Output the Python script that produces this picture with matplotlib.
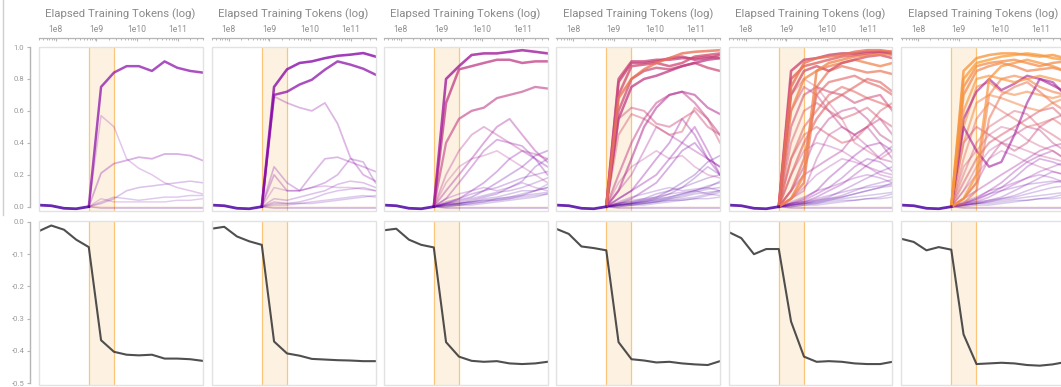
import matplotlib
matplotlib.use("Agg")
import numpy as np
import matplotlib.pyplot as plt
from matplotlib.patches import Rectangle
from matplotlib.lines import Line2D
from matplotlib.ticker import FixedLocator, FixedFormatter, LogLocator, NullFormatter

plt.rcParams['font.family'] = ['Roboto', 'DejaVu Sans']
plt.rcParams['axes.unicode_minus'] = False

# checkpoint positions (elapsed training tokens)
tokens = [3.8e7, 7.8e7, 1.6e8, 3.2e8, 6.5e8, 1.3e9, 2.7e9,
          5.5e9, 1.1e10, 2.3e10, 4.7e10, 9.6e10, 2.0e11, 4.0e11]
band_lo, band_hi = 6.5e8, 2.7e9

xtick_vals = [1e8, 1e9, 1e10, 1e11]
xtick_text = ["1e8", "1e9", "1e10", "1e11"]
top_yticks = [0.0, 0.2, 0.4, 0.6, 0.8, 1.0]
bot_yticks = [0.0, -0.1, -0.2, -0.3, -0.4, -0.5]
xlabel_text = "Elapsed Training Tokens (log)"

# loss-difference curve for each model
loss_1 = [-0.029, -0.011, -0.024, -0.055, -0.078, -0.367, -0.403, -0.412, -0.414, -0.412, -0.424, -0.424, -0.426, -0.431]
loss_2 = [-0.021, -0.015, -0.045, -0.060, -0.071, -0.371, -0.408, -0.415, -0.425, -0.427, -0.429, -0.430, -0.432, -0.432]
loss_3 = [-0.026, -0.021, -0.055, -0.071, -0.079, -0.373, -0.418, -0.431, -0.434, -0.432, -0.439, -0.441, -0.439, -0.434]
loss_4 = [-0.021, -0.037, -0.076, -0.081, -0.088, -0.373, -0.426, -0.430, -0.436, -0.434, -0.439, -0.442, -0.444, -0.432]
loss_5 = [-0.031, -0.050, -0.100, -0.084, -0.084, -0.309, -0.418, -0.434, -0.432, -0.434, -0.439, -0.441, -0.441, -0.434]
loss_6 = [-0.052, -0.062, -0.088, -0.078, -0.086, -0.349, -0.441, -0.439, -0.437, -0.439, -0.444, -0.446, -0.442, -0.435]

# head scores before the transition (first five checkpoints, shared by all heads)
early = [0.01, 0.006, -0.01, -0.013, 0.0]

# head scores from the sixth checkpoint on, and each head's layer depth (0..1)
heads_1 = [
    [0.75, 0.84, 0.88, 0.88, 0.85, 0.91, 0.87, 0.85, 0.84],
    [0.57, 0.50, 0.30, 0.24, 0.20, 0.15, 0.12, 0.10, 0.08],
    [0.21, 0.27, 0.29, 0.31, 0.30, 0.33, 0.33, 0.32, 0.29],
    [0.02, 0.05, 0.10, 0.12, 0.13, 0.14, 0.15, 0.16, 0.15],
    [0.03, 0.06, 0.05, 0.04, 0.05, 0.06, 0.06, 0.07, 0.07],
    [0.05, 0.03, 0.03, 0.03, 0.03, 0.03, 0.04, 0.04, 0.05],
    [-0.006, -0.006, -0.006, -0.006, -0.006, -0.006, -0.006, -0.006, -0.006],
    [-0.01, -0.01, -0.01, -0.01, -0.01, -0.01, -0.01, -0.01, -0.01],
    [-0.003, -0.004, -0.004, -0.004, -0.004, -0.004, -0.004, -0.004, -0.004],
]
layer_1 = [0.27, 0.27, 0.27, 0.20, 0.20, 0.25, 0.55, 0.10, 0.60]

heads_2 = [
    [0.75, 0.86, 0.90, 0.91, 0.93, 0.945, 0.952, 0.962, 0.94],
    [0.70, 0.72, 0.765, 0.795, 0.858, 0.91, 0.89, 0.864, 0.827],
    [0.69, 0.65, 0.62, 0.60, 0.65, 0.52, 0.31, 0.20, 0.16],
    [0.25, 0.15, 0.10, 0.12, 0.15, 0.20, 0.30, 0.28, 0.15],
    [0.20, 0.10, 0.10, 0.20, 0.30, 0.31, 0.28, 0.25, 0.22],
    [0.12, 0.10, 0.10, 0.12, 0.13, 0.12, 0.12, 0.11, 0.10],
    [0.02, 0.02, 0.03, 0.05, 0.08, 0.10, 0.11, 0.12, 0.10],
    [0.03, 0.02, 0.02, 0.03, 0.04, 0.05, 0.06, 0.07, 0.06],
    [0.05, 0.04, 0.06, 0.08, 0.10, 0.14, 0.16, 0.15, 0.12],
    [0.01, 0.01, 0.02, 0.02, 0.03, 0.04, 0.05, 0.06, 0.07],
    [-0.006, -0.006, -0.006, -0.006, -0.006, -0.006, -0.006, -0.006, -0.006],
    [-0.01, -0.01, -0.01, -0.01, -0.01, -0.01, -0.01, -0.01, -0.01],
    [-0.003, -0.004, -0.004, -0.004, -0.004, -0.004, -0.004, -0.004, -0.004],
]
layer_2 = [0.27, 0.27, 0.30, 0.25, 0.28, 0.30, 0.20, 0.20, 0.22, 0.15, 0.55, 0.10, 0.60]

heads_3 = [
    [0.80, 0.88, 0.95, 0.96, 0.96, 0.97, 0.98, 0.97, 0.96],
    [0.65, 0.86, 0.88, 0.90, 0.92, 0.92, 0.90, 0.91, 0.91],
    [0.40, 0.55, 0.60, 0.62, 0.68, 0.70, 0.72, 0.75, 0.74],
    [0.10, 0.20, 0.30, 0.40, 0.50, 0.55, 0.45, 0.35, 0.28],
    [0.05, 0.15, 0.25, 0.35, 0.42, 0.40, 0.38, 0.30, 0.20],
    [0.15, 0.25, 0.30, 0.32, 0.35, 0.30, 0.25, 0.20, 0.15],
    [0.02, 0.05, 0.10, 0.15, 0.22, 0.30, 0.35, 0.30, 0.25],
    [0.02, 0.04, 0.06, 0.10, 0.15, 0.20, 0.25, 0.32, 0.35],
    [0.03, 0.05, 0.08, 0.10, 0.12, 0.15, 0.18, 0.20, 0.22],
    [0.01, 0.02, 0.04, 0.06, 0.08, 0.12, 0.16, 0.25, 0.30],
    [0.05, 0.08, 0.10, 0.12, 0.10, 0.12, 0.15, 0.12, 0.10],
    [0.02, 0.03, 0.05, 0.07, 0.09, 0.10, 0.12, 0.15, 0.18],
    [0.01, 0.02, 0.03, 0.05, 0.06, 0.08, 0.10, 0.10, 0.12],
    [0.00, 0.01, 0.02, 0.03, 0.05, 0.06, 0.08, 0.10, 0.12],
    [0.02, 0.02, 0.03, 0.04, 0.04, 0.05, 0.06, 0.07, 0.08],
    [0.20, 0.35, 0.45, 0.50, 0.45, 0.40, 0.35, 0.33, 0.30],
    [0.01, 0.02, 0.03, 0.04, 0.05, 0.06, 0.07, 0.08, 0.09],
    [0.00, 0.01, 0.01, 0.02, 0.03, 0.04, 0.05, 0.06, 0.08],
    [0.01, 0.01, 0.02, 0.03, 0.04, 0.05, 0.07, 0.10, 0.14],
    [-0.006, -0.006, -0.006, -0.006, -0.006, -0.006, -0.006, -0.006, -0.006],
    [-0.01, -0.01, -0.01, -0.01, -0.01, -0.01, -0.01, -0.01, -0.01],
    [-0.003, -0.004, -0.004, -0.004, -0.004, -0.004, -0.004, -0.004, -0.004],
]
layer_3 = [0.35, 0.45, 0.45, 0.35, 0.30, 0.40, 0.25, 0.20, 0.20, 0.15, 0.25, 0.18,
           0.15, 0.12, 0.20, 0.40, 0.12, 0.10, 0.18, 0.50, 0.10, 0.60]

heads_4 = [
    [0.68, 0.80, 0.86, 0.90, 0.93, 0.96, 0.97, 0.975, 0.98],
    [0.80, 0.91, 0.91, 0.92, 0.92, 0.93, 0.93, 0.94, 0.93],
    [0.78, 0.90, 0.90, 0.91, 0.93, 0.94, 0.92, 0.93, 0.95],
    [0.70, 0.88, 0.89, 0.90, 0.88, 0.90, 0.94, 0.95, 0.96],
    [0.60, 0.80, 0.85, 0.87, 0.86, 0.88, 0.90, 0.87, 0.85],
    [0.55, 0.75, 0.80, 0.82, 0.85, 0.88, 0.90, 0.92, 0.93],
    [0.55, 0.62, 0.60, 0.52, 0.50, 0.55, 0.60, 0.50, 0.45],
    [0.45, 0.58, 0.55, 0.50, 0.45, 0.47, 0.62, 0.55, 0.40],
    [0.20, 0.40, 0.55, 0.65, 0.70, 0.72, 0.65, 0.55, 0.45],
    [0.10, 0.30, 0.50, 0.62, 0.70, 0.72, 0.70, 0.62, 0.58],
    [0.10, 0.20, 0.35, 0.50, 0.45, 0.40, 0.35, 0.30, 0.25],
    [0.05, 0.10, 0.20, 0.30, 0.40, 0.55, 0.45, 0.30, 0.20],
    [0.02, 0.05, 0.10, 0.15, 0.25, 0.35, 0.40, 0.30, 0.25],
    [0.05, 0.10, 0.15, 0.20, 0.30, 0.40, 0.50, 0.35, 0.20],
    [0.01, 0.02, 0.04, 0.06, 0.10, 0.15, 0.20, 0.28, 0.32],
    [0.01, 0.02, 0.03, 0.05, 0.08, 0.12, 0.18, 0.25, 0.20],
    [0.02, 0.03, 0.05, 0.08, 0.10, 0.12, 0.15, 0.18, 0.20],
    [0.01, 0.02, 0.03, 0.04, 0.06, 0.08, 0.10, 0.13, 0.15],
    [0.01, 0.01, 0.02, 0.03, 0.05, 0.07, 0.09, 0.11, 0.12],
    [0.03, 0.06, 0.08, 0.10, 0.12, 0.10, 0.11, 0.12, 0.10],
    [0.02, 0.04, 0.05, 0.06, 0.08, 0.09, 0.10, 0.08, 0.07],
    [0.15, 0.25, 0.30, 0.35, 0.30, 0.32, 0.25, 0.20, 0.18],
    [0.00, 0.01, 0.02, 0.03, 0.04, 0.05, 0.06, 0.08, 0.10],
    [0.01, 0.02, 0.03, 0.04, 0.05, 0.06, 0.08, 0.09, 0.10],
    [0.00, 0.01, 0.01, 0.02, 0.03, 0.04, 0.05, 0.07, 0.09],
    [0.01, 0.02, 0.02, 0.03, 0.04, 0.04, 0.05, 0.05, 0.06],
    [0.02, 0.03, 0.04, 0.05, 0.06, 0.08, 0.10, 0.12, 0.16],
    [-0.006, -0.006, -0.006, -0.006, -0.006, -0.006, -0.006, -0.006, -0.006],
    [-0.01, -0.01, -0.01, -0.01, -0.01, -0.01, -0.01, -0.01, -0.01],
    [-0.003, -0.004, -0.004, -0.004, -0.004, -0.004, -0.004, -0.004, -0.004],
]
layer_4 = [0.65, 0.50, 0.48, 0.52, 0.50, 0.45, 0.50, 0.55, 0.45, 0.40, 0.35, 0.30,
           0.25, 0.30, 0.15, 0.15, 0.15, 0.12, 0.10, 0.20, 0.20, 0.40, 0.12,
           0.12, 0.10, 0.14, 0.16, 0.55, 0.10, 0.60]

heads_5 = [
    [0.85, 0.92, 0.93, 0.95, 0.96, 0.96, 0.97, 0.97, 0.96],
    [0.80, 0.88, 0.90, 0.92, 0.94, 0.95, 0.96, 0.97, 0.97],
    [0.70, 0.85, 0.88, 0.85, 0.90, 0.92, 0.94, 0.95, 0.93],
    [0.75, 0.90, 0.93, 0.94, 0.95, 0.97, 0.98, 0.98, 0.97],
    [0.60, 0.80, 0.85, 0.88, 0.90, 0.92, 0.90, 0.88, 0.90],
    [0.05, 0.20, 0.85, 0.90, 0.92, 0.94, 0.95, 0.96, 0.95],
    [0.05, 0.15, 0.75, 0.85, 0.88, 0.86, 0.84, 0.85, 0.83],
    [0.10, 0.30, 0.70, 0.78, 0.80, 0.82, 0.78, 0.75, 0.70],
    [0.50, 0.70, 0.75, 0.72, 0.70, 0.65, 0.68, 0.70, 0.60],
    [0.40, 0.60, 0.65, 0.60, 0.55, 0.58, 0.62, 0.55, 0.50],
    [0.30, 0.50, 0.60, 0.70, 0.75, 0.72, 0.68, 0.65, 0.62],
    [0.60, 0.75, 0.70, 0.60, 0.50, 0.45, 0.50, 0.55, 0.45],
    [0.20, 0.40, 0.55, 0.65, 0.70, 0.75, 0.80, 0.78, 0.72],
    [0.70, 0.80, 0.75, 0.65, 0.55, 0.40, 0.35, 0.30, 0.35],
    [0.10, 0.25, 0.45, 0.55, 0.60, 0.62, 0.55, 0.45, 0.40],
    [0.30, 0.45, 0.50, 0.45, 0.40, 0.42, 0.50, 0.60, 0.65],
    [0.05, 0.10, 0.30, 0.45, 0.50, 0.45, 0.38, 0.30, 0.28],
    [0.20, 0.35, 0.40, 0.38, 0.35, 0.30, 0.25, 0.22, 0.20],
    [0.02, 0.05, 0.10, 0.18, 0.25, 0.32, 0.38, 0.40, 0.35],
    [0.02, 0.04, 0.08, 0.12, 0.18, 0.25, 0.30, 0.28, 0.22],
    [0.01, 0.03, 0.06, 0.10, 0.14, 0.20, 0.26, 0.32, 0.38],
    [0.03, 0.06, 0.10, 0.12, 0.15, 0.18, 0.20, 0.18, 0.15],
    [0.01, 0.02, 0.04, 0.06, 0.10, 0.14, 0.18, 0.22, 0.25],
    [0.01, 0.02, 0.03, 0.05, 0.07, 0.10, 0.13, 0.15, 0.17],
    [0.02, 0.03, 0.05, 0.07, 0.09, 0.11, 0.12, 0.13, 0.14],
    [0.00, 0.01, 0.02, 0.04, 0.06, 0.08, 0.10, 0.12, 0.15],
    [0.05, 0.12, 0.20, 0.25, 0.30, 0.28, 0.25, 0.20, 0.18],
    [0.10, 0.20, 0.25, 0.30, 0.35, 0.45, 0.50, 0.40, 0.30],
    [0.01, 0.02, 0.03, 0.04, 0.05, 0.06, 0.07, 0.08, 0.09],
    [0.00, 0.01, 0.01, 0.02, 0.03, 0.04, 0.05, 0.06, 0.08],
    [0.01, 0.02, 0.02, 0.03, 0.04, 0.04, 0.05, 0.05, 0.06],
    [0.02, 0.03, 0.04, 0.05, 0.06, 0.08, 0.10, 0.12, 0.13],
    [-0.006, -0.006, -0.006, -0.006, -0.006, -0.006, -0.006, -0.006, -0.006],
    [-0.01, -0.01, -0.01, -0.01, -0.01, -0.01, -0.01, -0.01, -0.01],
    [-0.003, -0.004, -0.004, -0.004, -0.004, -0.004, -0.004, -0.004, -0.004],
]
layer_5 = [0.50, 0.60, 0.55, 0.65, 0.70, 0.70, 0.65, 0.60, 0.50, 0.55, 0.60, 0.45,
           0.60, 0.50, 0.45, 0.55, 0.40, 0.35, 0.30, 0.25, 0.30, 0.25, 0.20, 0.15,
           0.20, 0.12, 0.35, 0.40, 0.12, 0.10, 0.14, 0.16, 0.55, 0.10, 0.60]

heads_6 = [
    [0.85, 0.93, 0.95, 0.96, 0.96, 0.95, 0.94, 0.95, 0.93],
    [0.80, 0.90, 0.92, 0.94, 0.95, 0.96, 0.95, 0.93, 0.92],
    [0.75, 0.88, 0.90, 0.91, 0.92, 0.90, 0.88, 0.90, 0.91],
    [0.70, 0.85, 0.88, 0.90, 0.88, 0.85, 0.86, 0.87, 0.85],
    [0.60, 0.80, 0.82, 0.80, 0.78, 0.80, 0.82, 0.80, 0.78],
    [0.50, 0.75, 0.78, 0.72, 0.70, 0.72, 0.70, 0.68, 0.70],
    [0.40, 0.65, 0.70, 0.68, 0.65, 0.62, 0.60, 0.65, 0.68],
    [0.55, 0.72, 0.80, 0.73, 0.77, 0.82, 0.80, 0.76, 0.72],
    [0.50, 0.35, 0.25, 0.28, 0.45, 0.65, 0.80, 0.78, 0.70],
    [0.05, 0.20, 0.80, 0.88, 0.90, 0.92, 0.90, 0.88, 0.85],
    [0.05, 0.15, 0.70, 0.80, 0.82, 0.80, 0.75, 0.72, 0.70],
    [0.02, 0.10, 0.55, 0.70, 0.75, 0.78, 0.72, 0.65, 0.60],
    [0.30, 0.55, 0.65, 0.60, 0.55, 0.50, 0.52, 0.55, 0.50],
    [0.20, 0.40, 0.50, 0.55, 0.60, 0.58, 0.50, 0.45, 0.40],
    [0.40, 0.50, 0.45, 0.40, 0.35, 0.40, 0.50, 0.55, 0.58],
    [0.15, 0.30, 0.40, 0.45, 0.50, 0.55, 0.60, 0.62, 0.55],
    [0.10, 0.25, 0.35, 0.40, 0.38, 0.35, 0.32, 0.30, 0.28],
    [0.05, 0.15, 0.30, 0.40, 0.45, 0.50, 0.48, 0.40, 0.35],
    [0.25, 0.35, 0.45, 0.50, 0.48, 0.42, 0.38, 0.35, 0.30],
    [0.02, 0.05, 0.10, 0.15, 0.22, 0.28, 0.32, 0.35, 0.30],
    [0.02, 0.04, 0.08, 0.12, 0.18, 0.25, 0.30, 0.28, 0.25],
    [0.01, 0.03, 0.06, 0.10, 0.14, 0.18, 0.22, 0.25, 0.28],
    [0.03, 0.06, 0.10, 0.12, 0.15, 0.18, 0.20, 0.18, 0.15],
    [0.01, 0.02, 0.04, 0.06, 0.10, 0.14, 0.18, 0.22, 0.20],
    [0.01, 0.02, 0.03, 0.05, 0.07, 0.10, 0.13, 0.15, 0.17],
    [0.05, 0.10, 0.15, 0.20, 0.25, 0.30, 0.35, 0.38, 0.40],
    [0.02, 0.05, 0.08, 0.10, 0.12, 0.14, 0.15, 0.16, 0.15],
    [0.10, 0.20, 0.30, 0.35, 0.32, 0.28, 0.25, 0.22, 0.20],
    [0.01, 0.02, 0.03, 0.04, 0.05, 0.06, 0.07, 0.08, 0.09],
    [0.00, 0.01, 0.01, 0.02, 0.03, 0.04, 0.05, 0.06, 0.08],
    [0.01, 0.02, 0.02, 0.03, 0.04, 0.04, 0.05, 0.05, 0.06],
    [0.02, 0.03, 0.04, 0.05, 0.06, 0.08, 0.10, 0.12, 0.13],
    [-0.006, -0.006, -0.006, -0.006, -0.006, -0.006, -0.006, -0.006, -0.006],
    [-0.01, -0.01, -0.01, -0.01, -0.01, -0.01, -0.01, -0.01, -0.01],
    [-0.003, -0.004, -0.004, -0.004, -0.004, -0.004, -0.004, -0.004, -0.004],
]
layer_6 = [0.75, 0.78, 0.72, 0.70, 0.75, 0.72, 0.70, 0.38, 0.35, 0.75, 0.70, 0.65,
           0.60, 0.55, 0.50, 0.55, 0.45, 0.45, 0.50, 0.30, 0.25, 0.30, 0.25, 0.20,
           0.20, 0.35, 0.20, 0.40, 0.12, 0.10, 0.14, 0.16, 0.55, 0.10, 0.60]

loss_curves = [loss_1, loss_2, loss_3, loss_4, loss_5, loss_6]
head_sets = [(heads_1, layer_1), (heads_2, layer_2), (heads_3, layer_3),
             (heads_4, layer_4), (heads_5, layer_5), (heads_6, layer_6)]

W, H = 1061, 387
fig = plt.figure(figsize=(W / 100, H / 100), dpi=100)
cmap = plt.get_cmap('plasma')

grey_txt = '#8a8a8a'
frame_col = '#e2e2e2'
axis_col = '#b5b5b5'
band_face = '#fdf2e2'
band_edge = '#fbc57a'

col_left = [38.5, 211.5, 383.5, 556.0, 728.5, 901.0]
panel_w = 164.0


def frame(ax):
    for s in ax.spines.values():
        s.set_visible(False)
    ax.add_patch(Rectangle((0, 0), 1, 1, transform=ax.transAxes, fill=False,
                           edgecolor=frame_col, lw=1.0, zorder=5, clip_on=False))


def band(ax):
    ax.axvspan(band_lo, band_hi, facecolor=band_face, edgecolor='none', zorder=0)
    for xv in (band_lo, band_hi):
        ax.axvline(xv, color=band_edge, lw=0.9, zorder=0.5)


def left_axis(ax, ticks):
    sp = ax.spines['left']
    sp.set_visible(True)
    sp.set_position(('outward', 6.2))
    sp.set_color(axis_col)
    sp.set_linewidth(1.0)
    sp.set_bounds(min(ticks), max(ticks))
    ax.yaxis.set_major_locator(FixedLocator(ticks))
    ax.yaxis.set_major_formatter(FixedFormatter([f"{t:.1f}" for t in ticks]))
    ax.tick_params(axis='y', which='both', left=True, labelleft=True, length=2.5,
                   width=0.8, color=axis_col, labelsize=5.6, labelcolor='#9a9a9a', pad=1.5)


for i in range(6):
    x0 = col_left[i] / W
    wf = panel_w / W
    ax_t = fig.add_axes([x0, 1 - 211 / H, wf, 164 / H])
    ax_b = fig.add_axes([x0, 1 - 385 / H, wf, 164 / H])

    for ax in (ax_t, ax_b):
        ax.set_xscale('log')
        ax.set_xlim(tokens[0], tokens[-1])
        frame(ax)
        band(ax)
        ax.tick_params(axis='y', which='both', left=False, labelleft=False)

    ax_t.set_ylim(-0.027, 1.0)
    ax_b.set_ylim(-0.506, 0.003)

    # top axis with log ticks
    ax_t.xaxis.set_ticks_position('top')
    ax_t.xaxis.set_label_position('top')
    sp = ax_t.spines['top']
    sp.set_visible(True)
    sp.set_position(('outward', 6.5))
    sp.set_color(axis_col)
    sp.set_linewidth(0.9)
    ax_t.xaxis.set_major_locator(FixedLocator(xtick_vals))
    ax_t.xaxis.set_major_formatter(FixedFormatter(xtick_text))
    ax_t.xaxis.set_minor_locator(LogLocator(base=10, subs=range(2, 10), numticks=20))
    ax_t.xaxis.set_minor_formatter(NullFormatter())
    ax_t.tick_params(axis='x', which='major', direction='in', length=2.5, width=0.8,
                     color=axis_col, labelsize=6.2, labelcolor='#8f8f8f', pad=2.5)
    ax_t.tick_params(axis='x', which='minor', direction='in', length=1.5, width=0.7,
                     color=axis_col)
    ax_t.set_xlabel(xlabel_text, fontsize=8.2, color=grey_txt, labelpad=6)

    ax_b.tick_params(axis='x', which='both', bottom=False, labelbottom=False,
                     top=False, labeltop=False)

    # head score curves: opacity follows the late-training score,
    # weaker heads first so stronger heads are drawn on top
    heads, layers = head_sets[i]
    strength = [float(np.mean(v[-4:])) for v in heads]
    for k in np.argsort(strength):
        m = min(max(strength[k], 0.0), 1.0)
        alpha = 0.2 + 0.62 * m ** 1.5
        lw = 1.0 + 0.9 * m
        ax_t.plot(tokens[4:], [early[-1]] + heads[k], color=cmap(layers[k]),
                  alpha=alpha, lw=lw, solid_joinstyle='round', zorder=2)
    # shared pre-transition segment
    ax_t.plot(tokens[:5], early, color=cmap(0.13), alpha=0.85, lw=2.0,
              solid_joinstyle='round', zorder=3)

    # loss curve
    ax_b.plot(tokens, loss_curves[i], color='#3c3c3c', lw=1.5, alpha=0.9, zorder=3)

    if i == 0:
        left_axis(ax_t, top_yticks)
        left_axis(ax_b, bot_yticks)

fig.add_artist(Line2D([2.5 / W, 2.5 / W], [1 - 215 / H, 1.0], color='#cfcfcf', lw=1.0))

fig.savefig('out.png', dpi=100)
